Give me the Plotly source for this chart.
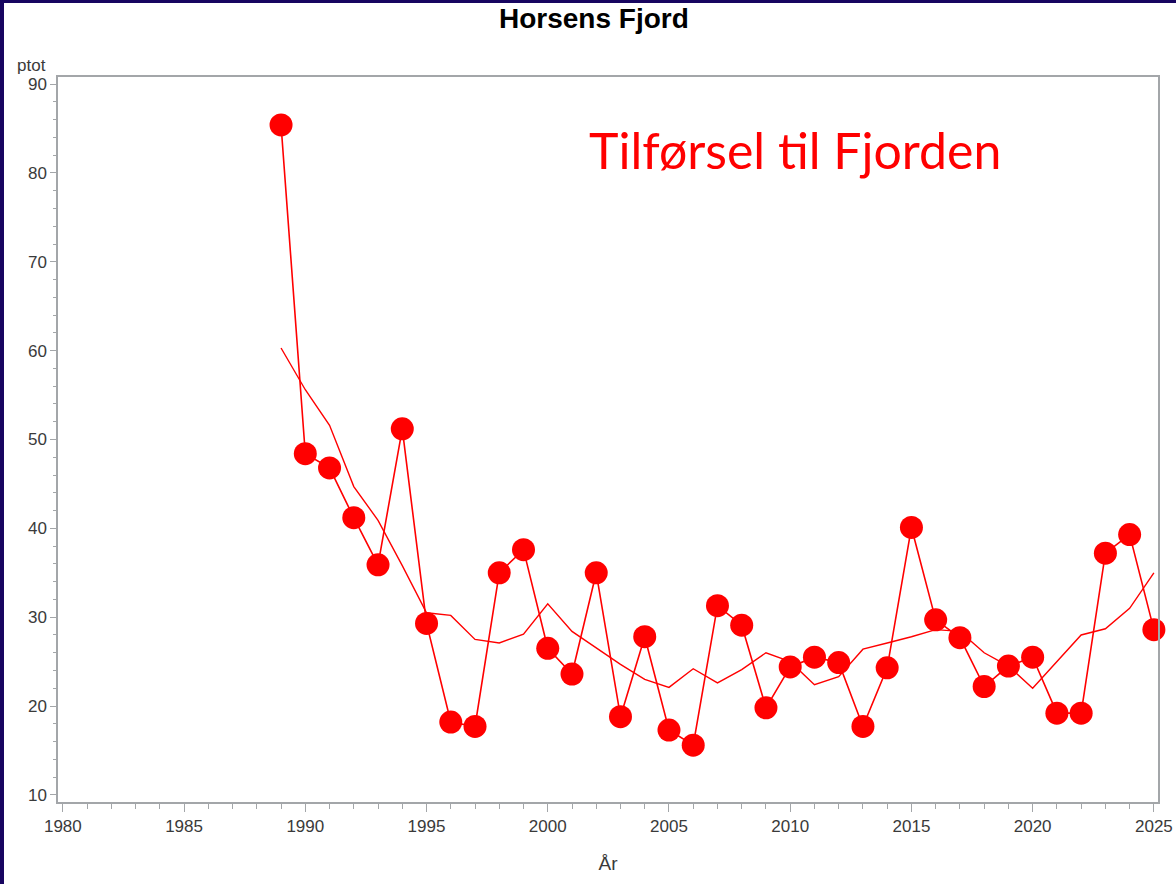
import plotly.graph_objects as go

# Annual total phosphorus load to Horsens Fjord
years = list(range(1989, 2026))
ptot = [85.4, 48.4, 46.8, 41.2, 35.9, 51.2, 29.3, 18.2, 17.7, 35.0,
        37.6, 26.5, 23.6, 35.0, 18.8, 27.8, 17.3, 15.6, 31.3, 29.1,
        19.8, 24.4, 25.5, 24.9, 17.7, 24.3, 40.1, 29.7, 27.7, 22.2,
        24.5, 25.5, 19.2, 19.2, 37.2, 39.3, 28.6]

# Smoothed trend of the same series
trend = [60.3, 55.6, 51.6, 44.7, 40.9, 35.8, 30.5, 30.2, 27.5, 27.1,
         28.1, 31.5, 28.4, 26.5, 24.7, 23.0, 22.1, 24.2, 22.6, 24.1,
         26.0, 25.0, 22.4, 23.3, 26.4, 27.1, 27.8, 28.6, 28.4, 26.0,
         24.5, 22.0, 25.0, 28.0, 28.7, 31.0, 35.0]

x_ticks = [1980, 1985, 1990, 1995, 2000, 2005, 2010, 2015, 2020, 2025]
y_ticks = [10, 20, 30, 40, 50, 60, 70, 80, 90]

RED = "#ff0000"
AXIS = "#a3a6a9"
TEXT = "#3a3a3a"
NAVY = "#170560"
SANS = "Liberation Sans, Arial, sans-serif"

fig = go.Figure()
fig.add_trace(go.Scatter(x=years, y=trend, mode="lines", cliponaxis=False,
                         line=dict(color=RED, width=1.4), hoverinfo="skip"))
fig.add_trace(go.Scatter(x=years, y=ptot, mode="lines+markers", cliponaxis=False,
                         line=dict(color=RED, width=1.6),
                         marker=dict(color=RED, size=23, line=dict(width=0))))

L, R, T, B = 58, 18, 77, 82
W, H = 1176, 884
pw, ph = W - L - R, H - T - B

def px(xp):
    return (xp - L) / pw

def py(yp):
    return (H - B - yp) / ph

fig.update_layout(
    width=W, height=H,
    margin=dict(l=L, r=R, t=T, b=B, autoexpand=False),
    paper_bgcolor="white", plot_bgcolor="white",
    showlegend=False,
    font=dict(family=SANS, color=TEXT),
    xaxis=dict(range=[1979.8, 2025.17], tickvals=x_ticks, automargin=False,
               ticks="outside", ticklen=8, tickwidth=1, tickcolor=AXIS,
               minor=dict(dtick=1, ticks="outside", ticklen=5, tickcolor=AXIS),
               showline=True, linecolor=AXIS, linewidth=1.5, mirror=True,
               showgrid=False, zeroline=False,
               tickfont=dict(size=17, color=TEXT, family=SANS),
               title=dict(text="År", font=dict(size=19, color=TEXT, family=SANS),
                          standoff=22)),
    yaxis=dict(range=[9.2, 90.8], tickvals=y_ticks, automargin=False,
               ticks="outside", ticklen=6, tickwidth=1, tickcolor=AXIS,
               minor=dict(dtick=2, ticks="outside", ticklen=3, tickcolor=AXIS),
               showline=True, linecolor=AXIS, linewidth=1.5, mirror=True,
               showgrid=False, zeroline=False,
               tickfont=dict(size=17, color=TEXT, family=SANS)),
    annotations=[
        dict(text="<b>Horsens Fjord</b>", xref="paper", yref="paper",
             x=px(594), y=py(19), xanchor="center", yanchor="middle",
             showarrow=False, font=dict(size=28, color="black", family=SANS)),
        dict(text="ptot", xref="paper", yref="paper", x=px(31), y=py(65),
             xanchor="center", yanchor="middle", showarrow=False,
             font=dict(size=17, color=TEXT, family=SANS)),
        dict(text="Tilførsel til Fjorden", xref="paper", yref="paper",
             x=px(795), y=py(150), xanchor="center", yanchor="middle",
             showarrow=False,
             font=dict(size=50, color=RED, family="Lato, sans-serif")),
    ],
    shapes=[
        dict(type="rect", xref="paper", yref="paper", layer="above",
             x0=px(-2), x1=px(4), y0=py(H + 2), y1=py(-2),
             fillcolor=NAVY, line=dict(width=0)),
        dict(type="rect", xref="paper", yref="paper", layer="above",
             x0=px(-2), x1=px(W + 2), y0=py(3), y1=py(-2),
             fillcolor=NAVY, line=dict(width=0)),
    ],
)

fig.write_html("out.html")
